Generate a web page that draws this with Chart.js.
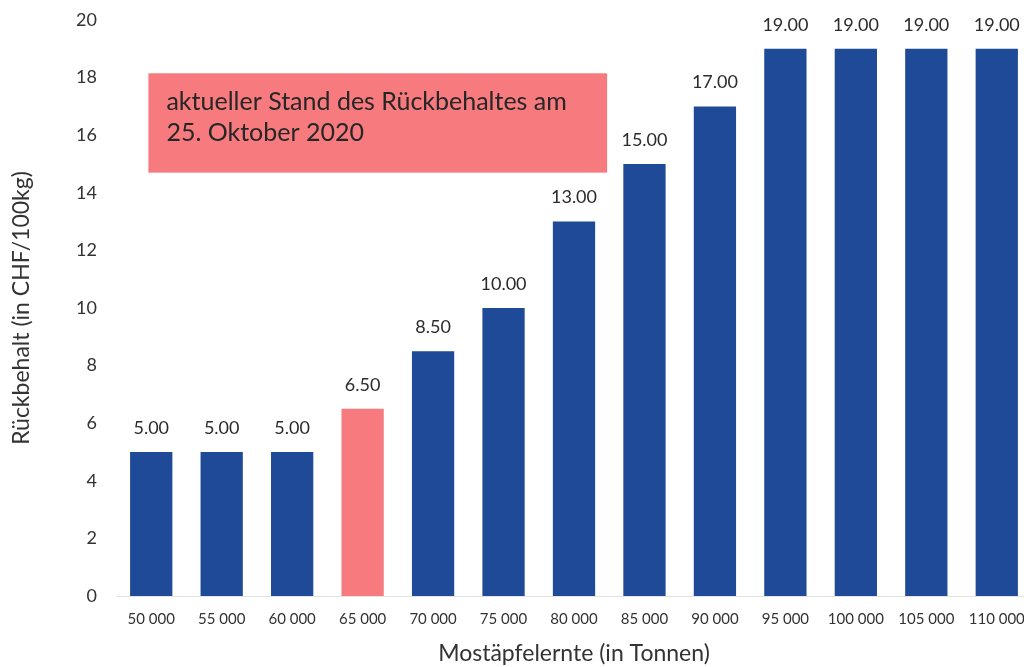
<!DOCTYPE html>
<html>
<head>
<meta charset="utf-8">
<script src="https://cdn.jsdelivr.net/npm/chart.js@4"></script>
<style>
  html, body { margin: 0; padding: 0; background: #fff; overflow: hidden; }
  #wrap { position: absolute; left: 0; top: 0; width: 1032px; height: 667px; }
</style>
</head>
<body>
<div id="wrap"><canvas id="retentionChart"></canvas></div>
<script>
// harvest categories (tonnes) and retention values (CHF/100kg)
const harvestLabels = ['50 000', '55 000', '60 000', '65 000', '70 000', '75 000', '80 000',
  '85 000', '90 000', '95 000', '100 000', '105 000', '110 000'];
const retentionValues = [5, 5, 5, 6.5, 8.5, 10, 13, 15, 17, 19, 19, 19, 19];
const currentIndex = 3;
const yTicks = [0, 2, 4, 6, 8, 10, 12, 14, 16, 18, 20];
const noteLines = ['aktueller Stand des Rückbehaltes am', '25. Oktober 2020'];

const navy = '#1f4a97';
const pink = '#f67a7e';
const fontFamily = 'Lato, "Open Sans", sans-serif';

const barColors = retentionValues.map((v, i) => i === currentIndex ? pink : navy);

// value labels above bars
const valueLabels = {
  id: 'valueLabels',
  afterDatasetsDraw(chart) {
    const c = chart.ctx;
    const meta = chart.getDatasetMeta(0);
    c.save();
    c.font = '18px ' + fontFamily;
    c.fillStyle = '#2b2b2b';
    c.textAlign = 'center';
    c.textBaseline = 'middle';
    meta.data.forEach((bar, i) => {
      c.fillText(retentionValues[i].toFixed(2), bar.x, bar.y - 24);
    });
    c.restore();
  }
};

// pink note box, placed in scale units
const noteBox = {
  id: 'noteBox',
  afterDatasetsDraw(chart) {
    const x = chart.scales.x, y = chart.scales.y;
    const c = chart.ctx;
    const left = x.getPixelForValue(-0.04);
    const right = x.getPixelForValue(6.47);
    const top = y.getPixelForValue(18.15);
    const bottom = y.getPixelForValue(14.7);
    c.save();
    c.fillStyle = pink;
    c.fillRect(left, top, right - left, bottom - top);
    c.font = '25px ' + fontFamily;
    c.fillStyle = '#262626';
    c.textBaseline = 'middle';
    c.fillText(noteLines[0], left + 18, top + 29);
    c.fillText(noteLines[1], left + 18, top + 60);
    c.restore();
  }
};

const ctx = document.getElementById('retentionChart').getContext('2d');
const retentionChart = new Chart(ctx, {
  type: 'bar',
  data: {
    labels: harvestLabels,
    datasets: [{
      data: retentionValues,
      backgroundColor: barColors,
      barPercentage: 0.6,
      categoryPercentage: 1.0
    }]
  },
  options: {
    responsive: true,
    maintainAspectRatio: false,
    animation: false,
    layout: { padding: { top: 20, right: 0, bottom: 0, left: 0 } },
    plugins: { legend: { display: false }, tooltip: { enabled: false } },
    scales: {
      x: {
        grid: { display: false, drawTicks: false },
        border: { display: true, color: '#e4e4e4' },
        ticks: { color: '#333', font: { family: fontFamily, size: 15 }, padding: 14, maxRotation: 0, autoSkip: false },
        title: {
          display: true, text: 'Mostäpfelernte (in Tonnen)', color: '#333',
          font: { family: fontFamily, size: 23 }, padding: { top: 10, bottom: 0 }
        },
        afterFit(scale) { scale.height = 71; scale.paddingLeft = 0; scale.paddingRight = 0; }
      },
      y: {
        min: 0, max: 20,
        afterBuildTicks(scale) { scale.ticks = yTicks.map(v => ({ value: v })); },
        grid: { display: false, drawTicks: false },
        border: { display: false },
        ticks: { color: '#333', font: { family: fontFamily, size: 18 }, padding: 19 },
        title: {
          display: true, text: 'Rückbehalt (in CHF/100kg)', color: '#333',
          font: { family: fontFamily, size: 23 }, padding: { top: 8, bottom: 0 }
        },
        afterFit(scale) { scale.width = 116; scale.paddingTop = 0; scale.paddingBottom = 0; }
      }
    }
  },
  plugins: [valueLabels, noteBox]
});
</script>
</body>
</html>
